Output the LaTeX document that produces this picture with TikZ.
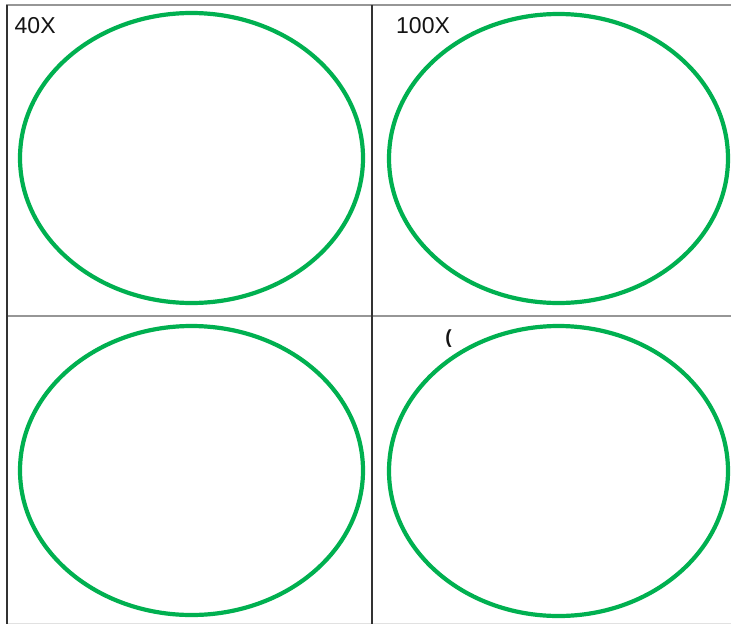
\documentclass[tikz,border=0pt]{standalone}
\usepackage{fontspec}
\setmainfont{Liberation Sans}
\begin{document}
\begin{tikzpicture}[x=1pt,y=-1pt,
  ring/.style={draw={rgb,255:red,0;green,176;blue,80},line width=4.2pt},
  hline/.style={draw={rgb,255:red,150;green,150;blue,150},line width=2pt},
  vline/.style={draw={rgb,255:red,50;green,50;blue,50},line width=1.4pt},
  lbl/.style={font=\fontsize{23}{26}\selectfont,text={rgb,255:red,20;green,20;blue,20},inner sep=0pt,anchor=base west}]
\useasboundingbox[fill=white] (0,0) rectangle (731,624);
% grid
\coordinate (tl) at (6,5);
\coordinate (tr) at (731,5);
\coordinate (ml) at (7,315.5);
\coordinate (mr) at (731,315.5);
\coordinate (bl) at (7,623);
\coordinate (br) at (731,623);
\coordinate (lt) at (7,5);
\coordinate (lb) at (7,624);
\coordinate (ct) at (372,5);
\coordinate (cb) at (372,624);
\draw[draw={rgb,255:red,225;green,225;blue,225},line width=1pt] (bl) -- (br);
\draw[hline] (tl) -- (tr);
\draw[hline] (ml) -- (mr);
\draw[vline] (lt) -- (lb);
\draw[vline] (ct) -- (cb);
% ellipses
\draw[ring] (191.5,158) ellipse [x radius=171.5, y radius=145];
\draw[ring] (558.5,158.5) ellipse [x radius=169.5, y radius=144.5];
\draw[ring] (191.5,470.5) ellipse [x radius=171.5, y radius=144.5];
\draw[ring] (558.5,471) ellipse [x radius=169.5, y radius=145];
% labels
\node[lbl] (a) at (14.5,33) {40X};
\node[lbl] (b) at (396,33) {100X};
\node[font=\fontsize{19}{22}\selectfont\bfseries,text={rgb,255:red,20;green,20;blue,20},inner sep=0pt] (c) at (448.5,339) {(};
\end{tikzpicture}
\end{document}
